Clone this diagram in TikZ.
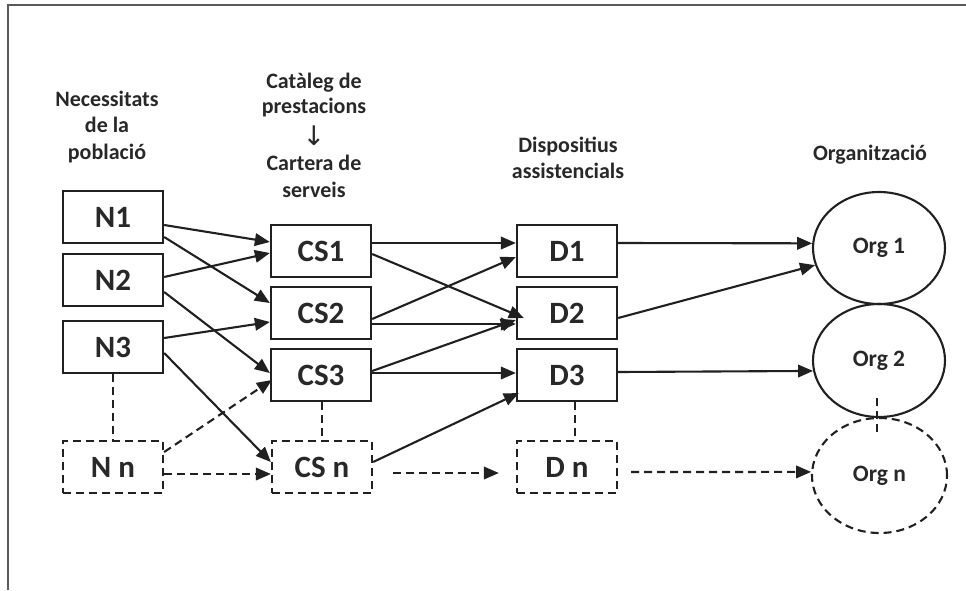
\documentclass[tikz,border=0pt]{standalone}
\usepackage{fontspec}
\setmainfont{Carlito}
\newfontfamily\symfont{DejaVu Sans}
\usetikzlibrary{arrows.meta,shapes.geometric}
\definecolor{ink}{HTML}{202020}
\definecolor{txt}{HTML}{282828}
\definecolor{frame}{HTML}{5A5A5A}
\begin{document}
\begin{tikzpicture}[x=1pt,y=-1pt,
  line width=2.1pt, draw=ink,
  box/.style={draw=ink, line width=2.3pt, rectangle, minimum width=100pt,
    minimum height=52pt, inner sep=0pt, text=txt,
    font=\bfseries\fontsize{31}{33}\selectfont},
  dashbox/.style={box, dash pattern=on 8pt off 5pt},
  orgnode/.style={draw=ink, line width=2.1pt, ellipse, inner sep=0pt,
    text=txt, font=\bfseries\fontsize{23.5}{26}\selectfont},
  heading/.style={align=center, text=txt,
    font=\bfseries\fontsize{22}{26.5}\selectfont},
  arr/.style={-{Triangle[length=15pt,width=12.5pt]}},
  dsh/.style={dash pattern=on 8pt off 5pt},
]
\useasboundingbox (0,0) rectangle (966,590);
% page frame
\draw[frame, line width=1.5pt] (8,590) -- (8,5) -- (966,5);

% column headings
\node[heading] (hN) at (107,127) {Necessitats\\de la\\població};
\node[heading] (hC) at (314,83) {Catàleg de};
\node[heading] (hC2) at (314,108) {prestacions};
\node[text=txt, font=\symfont\fontsize{27}{29}\selectfont] (hArr) at (314,136) {↓};
\node[heading] (hC3) at (314,176.5) {Cartera de\\serveis};
\node[heading] (hD) at (568,158) {Dispositius\\assistencials};
\node[heading] (hO) at (870,155) {Organització};

% needs
\node[box] (n1) at (113,217) {N1};
\node[box] (n2) at (113,280) {N2};
\node[box] (n3) at (113,347) {N3};
\node[dashbox] (nn) at (113,467) {N n};

% service portfolio
\node[box] (cs1) at (321,251) {CS1};
\node[box] (cs2) at (321,313) {CS2};
\node[box] (cs3) at (321,375) {CS3};
\node[dashbox] (csn) at (322,467) {CS n};

% care devices
\node[box] (d1) at (567,251) {D1};
\node[box] (d2) at (567,313) {D2};
\node[box] (d3) at (567,375) {D3};
\node[dashbox] (dn) at (567,467) {D n};

% organisations
\node[orgnode, minimum width=132pt, minimum height=112pt] (o1) at (879,248) {Org 1};
\node[orgnode, minimum width=132pt, minimum height=113pt] (o2) at (879,360.5) {Org 2};
\node[orgnode, dsh, minimum width=135pt, minimum height=115pt] (on) at (879.5,475.5) {Org n};

% needs -> portfolio
\draw[arr] ([yshift=-8pt]n1.east) -- ([yshift=9pt]cs1.west);
\draw[arr] ([yshift=-20pt]n1.east) -- ([yshift=10pt]cs2.west);
\draw[arr] ([yshift=3pt]n2.east) -- ([yshift=-2pt]cs1.west);
\draw[arr] ([yshift=-12pt]n2.east) -- ([yshift=2pt]cs3.west);
\draw[arr] ([yshift=9pt]n3.east) -- ([yshift=-9pt]cs2.west);
\draw[arr] ([yshift=-6pt]n3.east) -- ([yshift=5pt]csn.west);
\draw[dsh] (n3.south) -- (nn.north);
\draw[arr, dsh] ([yshift=15pt]nn.east) -- ([xshift=2pt,yshift=-5pt]cs3.west);
\draw[arr, dsh] ([yshift=-7pt]nn.east) -- ([yshift=-7pt]csn.west);

% portfolio -> devices
\draw[arr] ([yshift=8pt]cs1.east) -- ([yshift=8pt]d1.west);
\draw[arr] ([yshift=-3pt]cs1.east) -- ([xshift=8pt,yshift=-5pt]d2.west);
\draw[arr] ([yshift=-6pt]cs2.east) -- ([yshift=-6pt]d1.west);
\draw[arr] ([yshift=-11pt]cs2.east) -- ([yshift=-11pt]d2.west);
\draw[arr] ([yshift=4pt]cs3.east) -- ([yshift=-7pt]d2.west);
\draw[arr] ([yshift=2pt]cs3.east) -- ([yshift=2pt]d3.west);
\draw[arr] ([yshift=5pt]csn.east) -- ([xshift=3pt,yshift=-18pt]d3.west);
\draw[dsh] ([xshift=1pt]cs3.south) -- (csn.north);
\draw[arr, dsh, shorten <=20pt, shorten >=17pt] ([yshift=-6pt]csn.east) -- ([yshift=-6pt]dn.west);

% devices -> organisations
\draw[arr] ([yshift=8pt]d1.east) -- (o1.176);
\draw[arr] ([yshift=-5pt]d2.east) -- (o1.195);
\draw[arr] ([yshift=3pt]d3.east) -- (o2.189);
\draw[dsh] ([xshift=8pt]d3.south) -- ([xshift=8pt]dn.north);
\draw[arr, dsh, shorten <=13pt] ([yshift=-5pt]dn.east) -- (on.177);
\draw[dsh] ([xshift=-2pt,yshift=20pt]o2.south) -- ([xshift=-2.5pt,yshift=-15pt]on.north);
\end{tikzpicture}
\end{document}
